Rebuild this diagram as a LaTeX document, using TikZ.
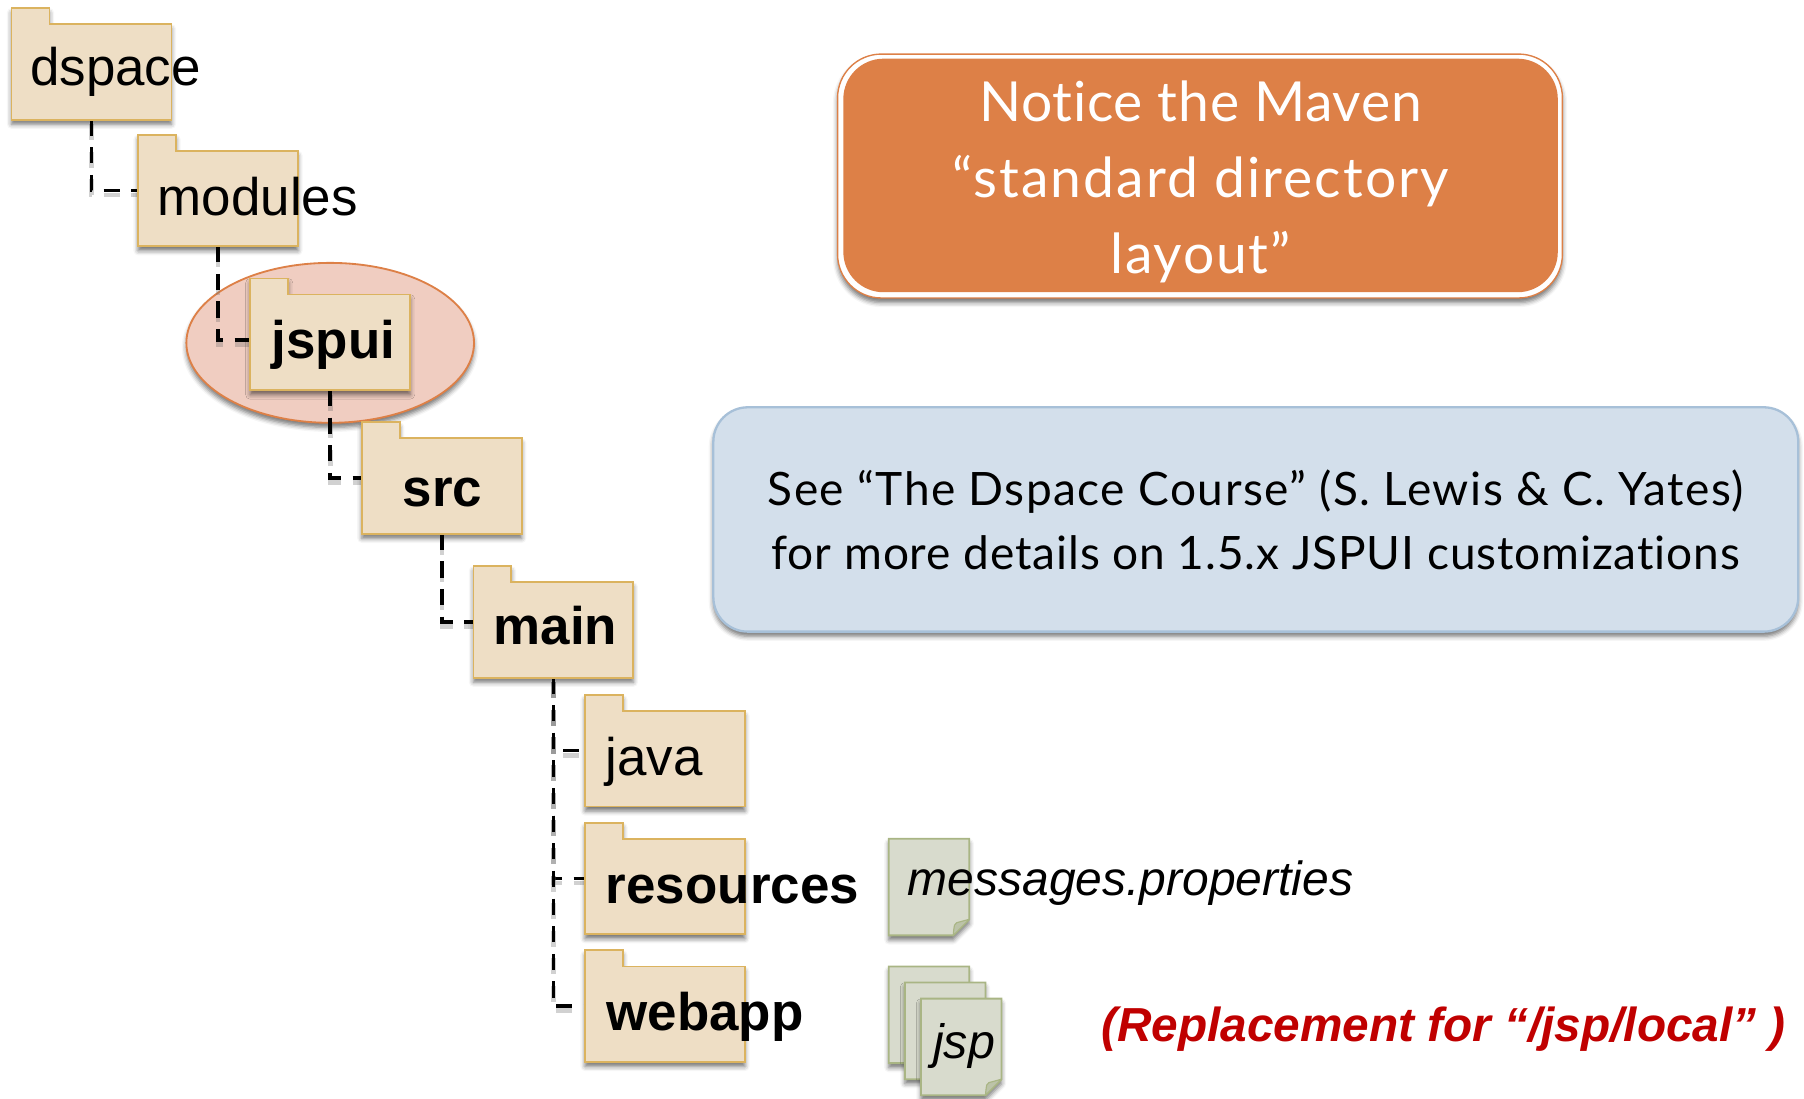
\documentclass[tikz,border=0pt]{standalone}
\usepackage{fontspec}
\setmainfont{Liberation Sans}
\newfontfamily\boxfont[Ligatures=NoCommon]{Lato}
\usetikzlibrary{shapes.geometric,shadows.blur}
\definecolor{foldfill}{HTML}{EEDEC5}
\definecolor{foldline}{HTML}{DBB35F}
\definecolor{sheetfill}{HTML}{D8DBCD}
\definecolor{sheetline}{HTML}{A9B584}
\definecolor{sheetfold}{HTML}{BCC3A8}
\definecolor{orangefill}{HTML}{DD8047}
\definecolor{ovalfill}{HTML}{F0CDC1}
\definecolor{bluefill}{HTML}{D3DFEB}
\definecolor{blueline}{HTML}{A7C0D8}
\definecolor{redtext}{HTML}{C00000}
\tikzset{
  softshadow/.style={blur shadow={shadow xshift=0pt,shadow yshift=-4pt,shadow blur radius=4pt,shadow opacity=55}},
  foldershape/.style={fill=foldfill,draw=foldline,line width=1.6pt,line join=miter,softshadow},
  sheetshape/.style={fill=sheetfill,draw=sheetline,line width=1.6pt,softshadow},
  foldanchor/.style={anchor=north west,minimum width=139pt,minimum height=97pt,inner sep=0pt,outer sep=0pt},
  sheetanchor/.style={anchor=north west,minimum width=70pt,minimum height=84pt,inner sep=0pt,outer sep=0pt},
  plainlabel/.style={anchor=base west,inner sep=0pt,font=\fontsize{46}{55}\selectfont},
  boldlabel/.style={plainlabel,font=\fontsize{46}{55}\selectfont\bfseries},
  connector/.style={line width=3pt,dash pattern=on 14pt off 10pt,
    preaction={draw=black!60,opacity=.3,line width=4pt,dash pattern=on 14pt off 10pt,transform canvas={yshift=-4pt}}},
}
\newcommand{\folderspot}[3]{% name, left, top
  \node[foldanchor] (#1) at (#2,#3) {};
}
\newcommand{\folderbody}[6]{% name, style, text, left, top, (x offset/y offset)
  \draw[foldershape] (#4,#5) -- ++(33,0) -- ++(0,14) -- ++(106,0) -- ++(0,83) -- ++(-139,0) -- cycle;
  \node[#2] (#1text) at ([#6]#1.north west) {#3};
}
\newcommand{\sheetat}[3]{% name, left, top
  \draw[sheetshape] (#2,#3) -- ++(70,0) -- ++(0,70) -- ++(-14,14) -- ++(-56,0) -- cycle;
  \node[sheetanchor] (#1) at (#2,#3) {};
  \filldraw[fill=sheetfold,draw=sheetline,line width=1pt,line join=round]
    ([xshift=-14pt]#1.south east) .. controls ([xshift=-13pt,yshift=10pt]#1.south east) .. ([xshift=-11pt,yshift=11pt]#1.south east) -- ([yshift=14pt]#1.south east) -- cycle;
}
\begin{document}
\begin{tikzpicture}[x=1pt,y=-1pt]
\useasboundingbox (0,0) rectangle (1568,955);
% highlight oval
\node[ellipse,fill=ovalfill,draw=orangefill,line width=1.6pt,minimum width=250pt,minimum height=139pt,inner sep=0pt,softshadow] (oval) at (287,298) {};
% folder positions
\folderspot{dspace}{10}{7}
\folderspot{modules}{120}{117}
\folderspot{jspui}{217.5}{242}
\folderspot{srcdir}{314.5}{367}
\folderspot{maindir}{411.5}{492}
\folderspot{java}{508.5}{604}
\folderspot{resources}{508.5}{715}
\folderspot{webapp}{508.5}{826}
% connectors
\draw[connector] (dspace.south) |- (modules.west);
\draw[connector] (modules.south) |- ([yshift=-5pt]jspui.west);
\draw[connector] (jspui.south) |- (srcdir.west);
\draw[connector] (srcdir.south) |- (maindir.west);
\draw[connector] (maindir.south) |- (java.west);
\draw[connector] (maindir.south) |- (resources.west);
\draw[connector] (maindir.south) |- (webapp.west);
% folders
\folderbody{dspace}{plainlabel}{dspace}{10}{7}{xshift=16pt,yshift=-67pt}
\folderbody{modules}{plainlabel}{modules}{120}{117}{xshift=17pt,yshift=-70.5pt}
\folderbody{jspui}{boldlabel}{jspui}{217.5}{242}{xshift=18.5pt,yshift=-70pt}
\folderbody{srcdir}{boldlabel}{src}{314.5}{367}{xshift=35.5pt,yshift=-73.5pt}
\folderbody{maindir}{boldlabel}{main}{411.5}{492}{xshift=17.5pt,yshift=-68pt}
\folderbody{java}{plainlabel}{java}{508.5}{604}{xshift=17.5pt,yshift=-70pt}
\folderbody{resources}{boldlabel}{resources}{508.5}{715}{xshift=18pt,yshift=-70pt}
\folderbody{webapp}{boldlabel}{webapp}{508.5}{826}{xshift=18.5pt,yshift=-70pt}
% files
\sheetat{msgfile}{772.5}{729}
\node[anchor=base west,inner sep=0pt,font=\fontsize{41.7}{50}\selectfont\itshape] (msglabel) at (789,778) {messages.properties};
\sheetat{jspa}{772.5}{840}
\sheetat{jspb}{786.5}{854}
\sheetat{jspc}{800.5}{868}
\node[anchor=base,inner sep=0pt,font=\fontsize{42}{50}\selectfont\itshape] (jsplabel) at (838,920) {jsp};
\node[anchor=base west,inner sep=0pt,text=redtext,font=\fontsize{41.5}{50}\selectfont\bfseries\itshape] (replabel) at (957,905) {(Replacement for “/jsp/local” )};
% callouts
\draw[fill=white,draw=orangefill,line width=1.2pt,rounded corners=38pt,softshadow] (728,47) rectangle (1358,259);
\node[fill=orangefill,rounded corners=35pt,minimum width=621pt,minimum height=203pt,inner sep=0pt] (notice) at (1043.5,152.5) {};
\node[inner sep=0pt,text=white,align=center,font=\boxfont\fontsize{48}{66}\selectfont] (noticetext) at (1043.5,158) {{\addfontfeatures{LetterSpace=1.3}Notice the Maven}\\{\addfontfeatures{LetterSpace=3.7}“standard directory}\\{\addfontfeatures{LetterSpace=3}layout”}};
\node[fill=bluefill,draw=blueline,line width=2pt,rounded corners=30pt,minimum width=943pt,minimum height=195pt,inner sep=0pt,softshadow] (seecourse) at (1091.5,451.5) {};
\node[inner sep=0pt,align=center,font=\boxfont\fontsize{40}{56}\selectfont] (seetext) at (1091.5,452) {{\addfontfeatures{LetterSpace=3.2}See “The Dspace Course” (S. Lewis \& C. Yates)}\\{\addfontfeatures{LetterSpace=1.9}for more details on 1.5.x JSPUI customizations}};
\end{tikzpicture}
\end{document}
